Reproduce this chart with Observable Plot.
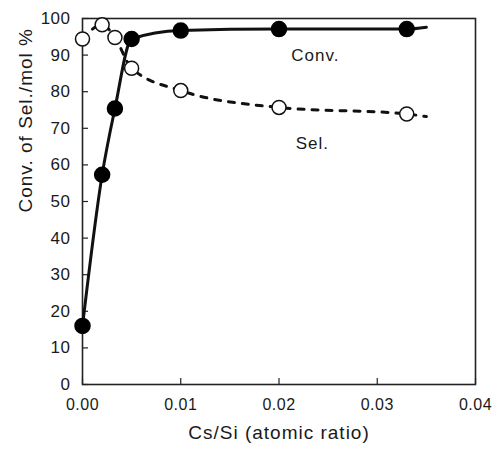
<!DOCTYPE html>
<html>
<head>
<meta charset="utf-8">
<script src="https://cdn.jsdelivr.net/npm/d3@7"></script>
<script src="https://cdn.jsdelivr.net/npm/@observablehq/plot@0.6"></script>
<style>
  html, body { margin: 0; padding: 0; background: #fff; }
  svg { display: block; }
  svg text { letter-spacing: 1px; }
  svg g[aria-label$="tick label"] text { letter-spacing: 0.5px; }
</style>
</head>
<body>
<div id="chart"></div>
<script>
// Data
const csSi = [0, 0.002, 0.0033, 0.005, 0.01, 0.02, 0.033];
const conv = [16, 57.3, 75.4, 94.4, 96.7, 97.1, 97.1];
const sel  = [94.4, 98.3, 94.8, 86.4, 80.3, 75.7, 73.9];
// end of the drawn curves (beyond the last marker)
const curveEndX = 0.035;
const convCurveEnd = 97.6;
const selCurveEnd = 73.2;
const xTicks = [0, 0.01, 0.02, 0.03, 0.04];
const yTicks = [0, 10, 20, 30, 40, 50, 60, 70, 80, 90, 100];
const labels = [
  {x: 0.0237, y: 89.9, text: "Conv."},
  {x: 0.0234, y: 65.8, text: "Sel."}
];

const convPts = csSi.map((x, i) => ({x, y: conv[i]}));
const selPts = csSi.map((x, i) => ({x, y: sel[i]}));
const convLine = [...convPts, {x: curveEndX, y: convCurveEnd}];
const selLine = [...selPts, {x: curveEndX, y: selCurveEnd}];

const font = "'Liberation Sans', Arial, Helvetica, sans-serif";

const chart = Plot.plot({
  width: 492,
  height: 450,
  marginLeft: 82,
  marginRight: 17,
  marginTop: 18,
  marginBottom: 66,
  style: {fontFamily: font, fontSize: "17px", color: "#1a1a1a", background: "#fff"},
  x: {domain: [0, 0.04]},
  y: {domain: [0, 100]},
  marks: [
    Plot.frame({stroke: "#222", strokeWidth: 1.6}),
    Plot.axisX({ticks: xTicks, tickFormat: d3.format(".2f"), tickSize: -6, tickPadding: 20, stroke: "#222", strokeWidth: 1.2, label: null, fontSize: 16}),
    Plot.axisY({ticks: yTicks, tickSize: -6, tickPadding: 18, stroke: "#222", strokeWidth: 1.2, label: null, fontSize: 17}),
    Plot.text(["Cs/Si (atomic ratio)"], {frameAnchor: "bottom", dy: 54, fontSize: 19, fill: "#1a1a1a"}),
    Plot.text(["Conv. of Sel./mol %"], {frameAnchor: "left", dx: -57, dy: 11, rotate: -90, fontSize: 19, fill: "#1a1a1a"}),
    Plot.line(selLine, {x: "x", y: "y", curve: "monotone-x", stroke: "#111", strokeWidth: 3, strokeDasharray: "6,8"}),
    Plot.line(convLine, {x: "x", y: "y", curve: "monotone-x", stroke: "#111", strokeWidth: 3}),
    Plot.dot(selPts, {x: "x", y: "y", r: 7, fill: "#fff", stroke: "#111", strokeWidth: 1.5}),
    Plot.dot(convPts, {x: "x", y: "y", r: 7.5, fill: "#000", stroke: "#000"}),
    Plot.text(labels, {x: "x", y: "y", text: "text", fontSize: 17, fill: "#1a1a1a"})
  ]
});
document.getElementById("chart").appendChild(chart);
</script>
</body>
</html>
